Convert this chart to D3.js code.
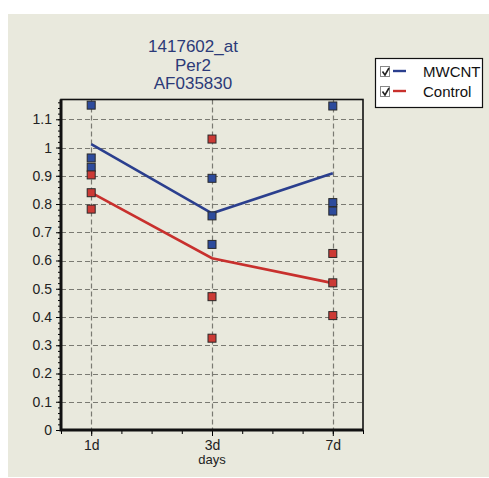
<!DOCTYPE html>
<html>
<head>
<meta charset="utf-8">
<title>Per2</title>
<script src="https://cdn.jsdelivr.net/npm/d3@7"></script>
<style>
  body { margin: 0; background: #fff; }
  text { font-family: "Liberation Sans", Arial, sans-serif; }
</style>
</head>
<body>
<div id="chart"></div>
<script>
// values
var days = ["1d", "3d", "7d"];
var titleLines = ["1417602_at", "Per2", "AF035830"];
var mwcntPoints = [[1.15, 0.963, 0.93], [0.891, 0.758, 0.657], [1.147, 0.805, 0.775]];
var controlPoints = [[0.903, 0.84, 0.782], [1.03, 0.472, 0.325], [0.625, 0.521, 0.405]];
var mwcntMean = [1.012, 0.767, 0.909];
var controlMean = [0.84, 0.608, 0.52];
var yTicks = [0, 0.1, 0.2, 0.3, 0.4, 0.5, 0.6, 0.7, 0.8, 0.9, 1, 1.1];

var series = [
    {name: "MWCNT", points: mwcntPoints, mean: mwcntMean, line: "#2b3f8e", fill: "#2d4b9c"},
    {name: "Control", points: controlPoints, mean: controlMean, line: "#c8302d", fill: "#cc3a35"}
];

var W = 489, H = 478;
var pl = 61, pr = 363, pt = 99.5, pb = 430;

var svg = d3.select("#chart").append("svg")
    .attr("width", W).attr("height", H);

// beige panel
svg.append("rect").attr("x", 8).attr("y", 14)
    .attr("width", W - 8).attr("height", 463)
    .attr("fill", "#e9e9dd");

var x = d3.scaleLinear().domain([-0.25, 2.25]).range([pl, pr]);
var y = d3.scaleLinear().domain([0, 1.17]).range([pb, pt]);

// grid
var grid = svg.append("g").attr("stroke", "#7a7a72").attr("stroke-width", 1.2)
    .attr("stroke-dasharray", "5,3");
grid.selectAll(".hg").data(yTicks.slice(1)).enter().append("line")
    .attr("x1", pl).attr("x2", pr)
    .attr("y1", function(d) { return Math.round(y(d)) + 0.5; })
    .attr("y2", function(d) { return Math.round(y(d)) + 0.5; });
grid.selectAll(".vg").data(days).enter().append("line")
    .attr("x1", function(d, i) { return Math.round(x(i)) + 0.5; })
    .attr("x2", function(d, i) { return Math.round(x(i)) + 0.5; })
    .attr("y1", pt).attr("y2", pb);

// minor ticks
var minorY = d3.range(0, 1.17, 0.02);
svg.append("g").attr("transform", "translate(" + pl + ",0)")
    .call(d3.axisLeft(y).tickValues(minorY).tickSize(3).tickFormat(""))
    .call(function(g) { g.select(".domain").remove(); });
var minorX = d3.range(-0.25, 2.26, 0.25);
svg.append("g").attr("transform", "translate(0," + pb + ")")
    .call(d3.axisBottom(x).tickValues(minorX).tickSize(4).tickFormat(""))
    .call(function(g) { g.select(".domain").remove(); });

// major axes
var yAxis = svg.append("g").attr("transform", "translate(" + pl + ",0)")
    .call(d3.axisLeft(y).tickValues(yTicks).tickSize(5).tickPadding(4)
        .tickFormat(d3.format("~g")));
yAxis.select(".domain").remove();
yAxis.selectAll("text").attr("font-size", 14).attr("fill", "#222");

var xAxis = svg.append("g").attr("transform", "translate(0," + pb + ")")
    .call(d3.axisBottom(x).tickValues([0, 1, 2]).tickSize(6).tickPadding(4)
        .tickFormat(function(d) { return days[d]; }));
xAxis.select(".domain").remove();
xAxis.selectAll("text").attr("font-size", 14).attr("fill", "#222");

svg.append("text").attr("x", x(1)).attr("y", 464)
    .attr("text-anchor", "middle").attr("font-size", 13).attr("fill", "#222")
    .text("days");

// frame
svg.append("rect").attr("x", pl).attr("y", pt)
    .attr("width", pr - pl).attr("height", pb - pt)
    .attr("fill", "none").attr("stroke", "#111").attr("stroke-width", 1.6);
svg.append("path")
    .attr("d", "M" + pl + "," + pt + "V" + pb + "H" + pr)
    .attr("fill", "none").attr("stroke", "#111").attr("stroke-width", 3);

// mean lines
var line = d3.line()
    .x(function(d, i) { return x(i); })
    .y(function(d) { return y(d); });
svg.selectAll(".mean").data(series).enter().append("path")
    .attr("d", function(s) { return line(s.mean); })
    .attr("fill", "none")
    .attr("stroke", function(s) { return s.line; })
    .attr("stroke-width", 2.6);

// replicate squares
series.forEach(function(s) {
    var pts = [];
    s.points.forEach(function(vals, i) {
        vals.forEach(function(v) { pts.push({i: i, v: v}); });
    });
    svg.append("g").selectAll("rect").data(pts).enter().append("rect")
        .attr("x", function(d) { return x(d.i) - 4; })
        .attr("y", function(d) { return y(d.v) - 4; })
        .attr("width", 8).attr("height", 8)
        .attr("fill", s.fill).attr("stroke", "#2a2a2a").attr("stroke-width", 1);
});

// title
svg.append("g").selectAll("text").data(titleLines).enter().append("text")
    .attr("x", 193)
    .attr("y", function(d, i) { return 52 + i * 18.5; })
    .attr("text-anchor", "middle").attr("font-size", 17)
    .attr("fill", "#2c3a78")
    .text(function(d) { return d; });

// legend
var lg = svg.append("g");
lg.append("rect").attr("x", 375.5).attr("y", 58.5).attr("width", 107).attr("height", 49)
    .attr("fill", "#fff").attr("stroke", "#111").attr("stroke-width", 1.2);
var row = lg.selectAll(".row").data(series).enter().append("g")
    .attr("transform", function(d, i) { return "translate(0," + (71 + i * 20) + ")"; });
row.append("rect").attr("x", 380.5).attr("y", -4.5).attr("width", 9).attr("height", 10)
    .attr("fill", "#fff").attr("stroke", "#888").attr("stroke-width", 1);
row.append("path").attr("d", "M382.5,0.5 L385,4 L389,-3")
    .attr("fill", "none").attr("stroke", "#222").attr("stroke-width", 1.6);
row.append("line").attr("x1", 393).attr("x2", 406).attr("y1", 0).attr("y2", 0)
    .attr("stroke", function(d) { return d.line; }).attr("stroke-width", 2.4);
row.append("text").attr("x", 423).attr("y", 5.5).attr("font-size", 15).attr("fill", "#111")
    .text(function(d) { return d.name; });
</script>
</body>
</html>
